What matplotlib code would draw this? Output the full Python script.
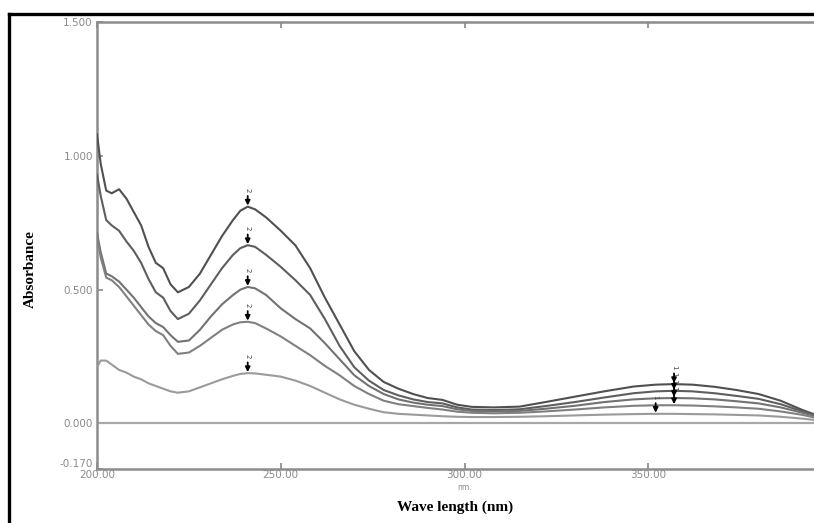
import matplotlib
matplotlib.use("Agg")
import matplotlib.pyplot as plt
from matplotlib.lines import Line2D
import numpy as np

# wavelength (nm)
wl = [200, 201, 202.5, 204, 206, 208, 210, 212, 214, 216, 218, 220, 222, 225, 228,
      231, 234, 237, 239, 241, 243, 246, 250, 254, 258, 262, 266, 270, 274, 278,
      282, 286, 290, 294, 298, 302, 308, 315, 322, 330, 338, 346, 352, 357, 362,
      368, 374, 380, 386, 392, 396, 400]

# absorbance of the five spectra, top to bottom
abs1 = [1.08, 0.97, 0.87, 0.86, 0.875, 0.84, 0.79, 0.74, 0.66, 0.60, 0.58, 0.52, 0.49, 0.51, 0.56,
        0.63, 0.70, 0.76, 0.795, 0.81, 0.80, 0.77, 0.72, 0.665, 0.58, 0.47, 0.37, 0.27, 0.20, 0.155,
        0.13, 0.11, 0.095, 0.088, 0.07, 0.062, 0.060, 0.063, 0.08, 0.10, 0.12, 0.138, 0.145, 0.147, 0.145,
        0.137, 0.125, 0.11, 0.085, 0.05, 0.03, 0.02]
abs2 = [0.93, 0.85, 0.76, 0.74, 0.72, 0.68, 0.645, 0.60, 0.54, 0.49, 0.47, 0.42, 0.39, 0.41, 0.46,
        0.52, 0.58, 0.63, 0.655, 0.666, 0.66, 0.63, 0.585, 0.535, 0.48, 0.39, 0.29, 0.21, 0.16, 0.125,
        0.105, 0.09, 0.08, 0.075, 0.06, 0.052, 0.05, 0.053, 0.065, 0.08, 0.097, 0.113, 0.12, 0.122, 0.12,
        0.113, 0.103, 0.092, 0.072, 0.045, 0.028, 0.018]
abs3 = [0.71, 0.64, 0.56, 0.55, 0.53, 0.50, 0.47, 0.435, 0.40, 0.375, 0.36, 0.33, 0.305, 0.31, 0.35,
        0.40, 0.445, 0.48, 0.50, 0.51, 0.505, 0.48, 0.43, 0.39, 0.355, 0.30, 0.24, 0.18, 0.14, 0.11,
        0.09, 0.078, 0.07, 0.065, 0.053, 0.047, 0.045, 0.047, 0.055, 0.066, 0.08, 0.09, 0.094, 0.095, 0.094,
        0.09, 0.083, 0.075, 0.06, 0.04, 0.025, 0.016]
abs4 = [0.70, 0.62, 0.545, 0.535, 0.51, 0.475, 0.44, 0.405, 0.37, 0.345, 0.33, 0.29, 0.26, 0.265, 0.29,
        0.32, 0.35, 0.37, 0.378, 0.38, 0.375, 0.355, 0.325, 0.29, 0.255, 0.215, 0.18, 0.14, 0.11, 0.085,
        0.072, 0.065, 0.058, 0.052, 0.044, 0.04, 0.038, 0.04, 0.045, 0.052, 0.06, 0.066, 0.068, 0.068, 0.067,
        0.064, 0.06, 0.055, 0.045, 0.032, 0.02, 0.014]
abs5 = [0.21, 0.235, 0.235, 0.22, 0.20, 0.19, 0.175, 0.165, 0.15, 0.14, 0.13, 0.12, 0.115, 0.12, 0.135,
        0.15, 0.165, 0.178, 0.185, 0.188, 0.187, 0.182, 0.175, 0.16, 0.14, 0.115, 0.09, 0.07, 0.055, 0.042,
        0.036, 0.033, 0.03, 0.027, 0.025, 0.024, 0.024, 0.025, 0.027, 0.03, 0.033, 0.035, 0.036, 0.036, 0.035,
        0.034, 0.032, 0.03, 0.025, 0.018, 0.012, 0.01]

spectra = [abs1, abs2, abs3, abs4, abs5]
colors = ["#505050", "#5e5e5e", "#727272", "#808080", "#9a9a9a"]
# peak picks (wavelength, label) for each spectrum
peaks = [[(241, "2"), (357, "1")],
         [(241, "2"), (357, "1")],
         [(241, "2"), (357, "1")],
         [(241, "2"), (357, "1")],
         [(241, "2"), (352, "1")]]

yticks = [-0.17, 0.0, 0.5, 1.0, 1.5]
ytick_labels = ["-0.170", "0.000", "0.500", "1.000", "1.500"]
xticks = [200, 250, 300, 350, 400]
xtick_labels = ["200.00", "250.00", "300.00", "350.00", "400.00"]

fig = plt.figure(figsize=(8.14, 5.23), dpi=100)
ax = fig.add_axes([0.1192, 0.1033, 0.903, 0.8547])

wl_arr = np.array(wl)
for y, c, pk in zip(spectra, colors, peaks):
    ax.plot(wl, y, color=c, lw=1.5, zorder=3)
    y = np.array(y)
    for xp, lab in pk:
        yp = np.interp(xp, wl_arr, y)
        ax.annotate("", xy=(xp, yp + 0.004), xytext=(xp, yp + 0.04),
                    arrowprops=dict(arrowstyle="-|>", color="black", lw=1.3,
                                    mutation_scale=7, shrinkA=0, shrinkB=0),
                    zorder=4)
        ax.text(xp, yp + 0.055, lab, rotation=-90, fontsize=5, color="#444444",
                ha="center", va="bottom")

ax.axhline(0, color="#a8a8a8", lw=1.6, zorder=2)

ax.set_xlim(200, 400)
ax.set_ylim(-0.17, 1.5)
ax.set_xticks(xticks)
ax.set_xticklabels(xtick_labels)
ax.set_yticks(yticks)
ax.set_yticklabels(ytick_labels)
ax.tick_params(axis="both", direction="in", length=4, width=1.2, color="#888888",
               labelsize=7.5, labelcolor="#8a8a8a")
ax.tick_params(axis="x", pad=1, top=True)
ax.tick_params(axis="y", pad=3)
# the lowest y label sits just above the x labels
ax.get_yticklabels()[0].set_verticalalignment("bottom")

for side in ["left", "top", "bottom", "right"]:
    ax.spines[side].set_color("#8c8c8c")
    ax.spines[side].set_linewidth(1.8)

ax.text(300, -0.24, "nm.", fontsize=5.5, color="#8a8a8a", ha="center", va="center")

fig.text(0.037, 0.485, "Absorbance", rotation=90, fontsize=11, fontweight="bold",
         family="Liberation Serif", ha="center", va="center")
fig.text(0.559, 0.031, "Wave length (nm)", fontsize=11, fontweight="bold",
         family="Liberation Serif", ha="center", va="center")

# black frame around the picture (top and left edges visible)
fig.add_artist(Line2D([0.011, 1.0], [0.973, 0.973], color="black", lw=2.4,
                      transform=fig.transFigure))
fig.add_artist(Line2D([0.011, 0.011], [0.0, 0.973], color="black", lw=2.4,
                      transform=fig.transFigure))

fig.savefig("out.png", dpi=100)
